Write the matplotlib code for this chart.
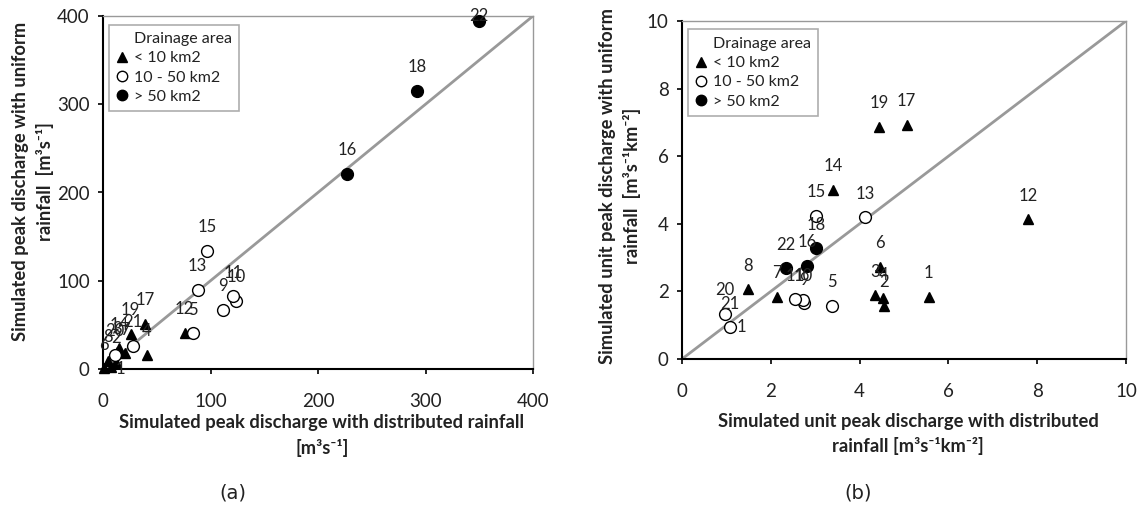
import matplotlib
matplotlib.use("Agg")
import matplotlib.pyplot as plt
from matplotlib.lines import Line2D

plt.rcParams['font.family'] = ['Lato', 'DejaVu Sans']

# Catchment data
catchment_ids = list(range(1, 23))
area_class = ['small', 'small', 'small', 'small', 'medium', 'small', 'small', 'small',
              'medium', 'medium', 'medium', 'small', 'medium', 'small', 'medium', 'large',
              'small', 'large', 'small', 'medium', 'medium', 'large']

# (a) peak discharge [m3/s]
peak_distributed = [7, 12, 13, 41, 84, 1, 20, 5, 112, 123.5, 121, 76, 88, 15, 97, 227,
                    39, 292, 25.6, 11, 28, 349.5]
peak_uniform = [2, 8, 19, 16, 40.5, 1, 18, 9, 67, 77.5, 82.5, 41, 90, 23.5, 134, 221.5,
                51, 315, 40, 16, 26, 394]

# (b) unit peak discharge [m3/s/km2]
unit_distributed = [5.56, 4.55, 4.35, 4.53, 3.37, 4.46, 2.13, 1.48, 2.75, 2.72, 2.55, 7.79,
                    4.13, 3.41, 3.02, 2.81, 5.06, 3.02, 4.44, 0.97, 1.08, 2.34]
unit_uniform = [1.84, 1.57, 1.89, 1.80, 1.57, 2.73, 1.84, 2.06, 1.65, 1.75, 1.77, 4.13,
                4.19, 5.00, 4.23, 2.75, 6.92, 3.27, 6.87, 1.33, 0.94, 2.68]

class_labels = {'small': '< 10 km2', 'medium': '10 - 50 km2', 'large': '> 50 km2'}
class_style = {
    'small': dict(marker='^', markerfacecolor='black', markeredgecolor='black', markersize=7.5),
    'medium': dict(marker='o', markerfacecolor='white', markeredgecolor='black', markersize=8.5,
                   markeredgewidth=1.0),
    'large': dict(marker='o', markerfacecolor='black', markeredgecolor='black', markersize=8.5),
}

LABEL_COLOR = '#222222'
GRAY = '#999999'

fig = plt.figure(figsize=(11.39, 5.11), dpi=100)
ax_a = fig.add_axes([103 / 1139, 1 - 369 / 511, 430 / 1139, 353 / 511])
ax_b = fig.add_axes([682 / 1139, 1 - 359 / 511, 444 / 1139, 338 / 511])


def draw_panel(ax, xs, ys, lim, ticks, xlabel, ylabel, xlab_pos, ylab_pos, label_shift):
    ax.plot([0, lim], [0, lim], color=GRAY, lw=2.0, zorder=1)
    for cls in ['small', 'medium', 'large']:
        px = [x for x, c in zip(xs, area_class) if c == cls]
        py = [y for y, c in zip(ys, area_class) if c == cls]
        ax.plot(px, py, linestyle='none', zorder=3, clip_on=False, **class_style[cls])
    for cid, x, y in zip(catchment_ids, xs, ys):
        dx, dy = label_shift.get(cid, (0, 17))
        ax.annotate(str(cid), (x, y), xytext=(dx, dy), textcoords='offset points',
                    ha='center', va='center', fontsize=12, color=LABEL_COLOR,
                    annotation_clip=False, zorder=4)
    ax.set_xlim(0, lim)
    ax.set_ylim(0, lim)
    ax.set_xticks(ticks)
    ax.set_yticks(ticks)
    ax.spines['left'].set_linewidth(1.5)
    ax.spines['bottom'].set_linewidth(1.5)
    for s in ['top', 'right']:
        ax.spines[s].set_color(GRAY)
        ax.spines[s].set_linewidth(1.0)
    ax.tick_params(axis='both', direction='out', length=3.5, width=1.2,
                   labelsize=13.5, labelcolor=LABEL_COLOR, top=False, right=False)
    ax.tick_params(axis='x', pad=14)
    ax.tick_params(axis='y', pad=6)
    ax.set_xlabel(xlabel, fontsize=13.2, fontweight='bold', linespacing=1.5, color=LABEL_COLOR)
    ax.xaxis.label.set_va('center')
    ax.xaxis.set_label_coords(*xlab_pos)
    ax.set_ylabel(ylabel, fontsize=13.2, fontweight='bold', linespacing=1.45, color=LABEL_COLOR)
    ax.yaxis.label.set_va('center')
    ax.yaxis.label.set_ha('center')
    ax.yaxis.set_label_coords(*ylab_pos)

    handles = [Line2D([], [], linestyle='none')]
    labels = ['Drainage area']
    for cls in ['small', 'medium', 'large']:
        st = dict(class_style[cls])
        st['markersize'] = st['markersize'] - 1
        handles.append(Line2D([], [], linestyle='none', **st))
        labels.append(class_labels[cls])
    leg = ax.legend(handles, labels, loc='upper left', bbox_to_anchor=(0.014, 0.975),
                    fontsize=11.5, frameon=True, fancybox=False, edgecolor=GRAY,
                    handlelength=0.7, handletextpad=0.4, labelspacing=0.32,
                    borderpad=0.45, borderaxespad=0.0)
    leg.get_frame().set_linewidth(1.2)
    for t in leg.get_texts():
        t.set_color(LABEL_COLOR)


draw_panel(ax_a, peak_distributed, peak_uniform, 400, [0, 100, 200, 300, 400],
           'Simulated peak discharge with distributed rainfall\n[m³s⁻¹]',
           'Simulated peak discharge with uniform\nrainfall  [m³s⁻¹]',
           (0.509, -0.188), (-0.163, 0.531), {1: (7, -1), 22: (0, 4)})

draw_panel(ax_b, unit_distributed, unit_uniform, 10, [0, 2, 4, 6, 8, 10],
           'Simulated unit peak discharge with distributed\nrainfall [m³s⁻¹km⁻²]',
           'Simulated unit peak discharge with uniform\nrainfall  [m³s⁻¹km⁻²]',
           (0.509, -0.222), (-0.140, 0.512), {})

# second tag beside the lower-left catchment in panel (b)
ax_b.annotate('1', (unit_distributed[20], unit_uniform[20]), xytext=(8, 0),
              textcoords='offset points', ha='center', va='center', fontsize=12,
              color=LABEL_COLOR, annotation_clip=False, zorder=4)

fig.text(233 / 1139, 1 - 493 / 511, '(a)', ha='center', va='center', fontsize=14,
         family='DejaVu Sans', color=LABEL_COLOR)
fig.text(858 / 1139, 1 - 493 / 511, '(b)', ha='center', va='center', fontsize=14,
         family='DejaVu Sans', color=LABEL_COLOR)

fig.savefig('out.png', dpi=100, facecolor='white')
